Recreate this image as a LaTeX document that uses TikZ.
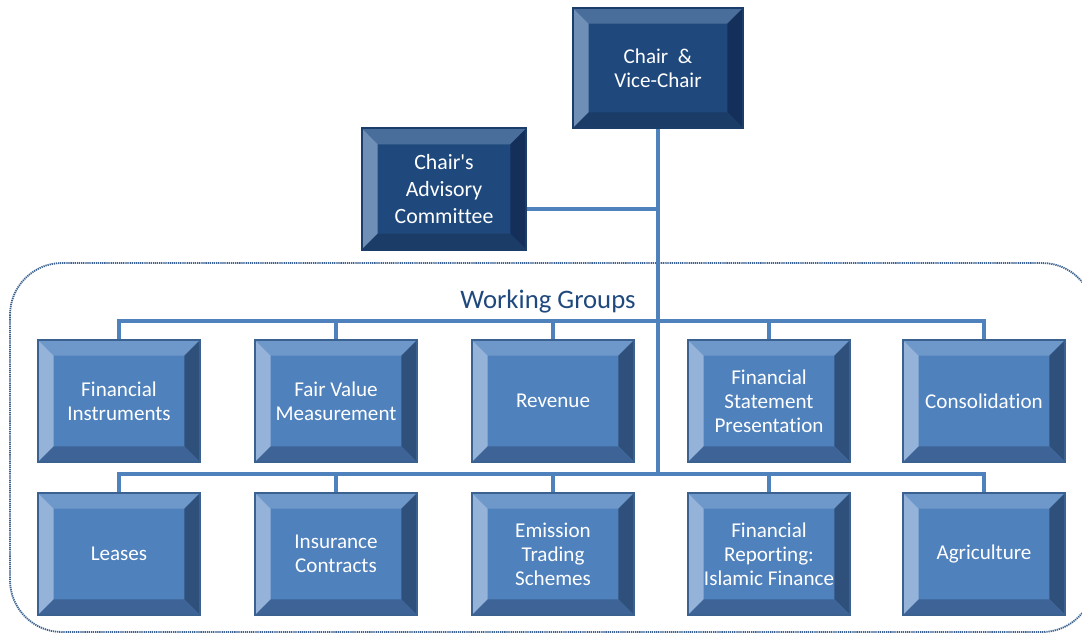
\documentclass[tikz,border=0pt]{standalone}
\usepackage{fontspec}
\setmainfont{Carlito}[Ligatures={TeXOff,NoCommon}]
\usetikzlibrary{calc}

\definecolor{boxmid}{HTML}{4F81BD}
\definecolor{boxtop}{HTML}{6E97CA}
\definecolor{boxleft}{HTML}{95B3D8}
\definecolor{boxright}{HTML}{2F507B}
\definecolor{boxbot}{HTML}{3E6497}
\definecolor{boxline}{HTML}{3A6190}
\definecolor{topmid}{HTML}{1F497D}
\definecolor{toptop}{HTML}{4A6E9B}
\definecolor{topleft}{HTML}{6F8FB7}
\definecolor{topright}{HTML}{14305A}
\definecolor{topbot}{HTML}{1A3C67}
\definecolor{topline}{HTML}{1A3D69}

% bevel frame round a node: #1 node, #2 top, #3 left, #4 right, #5 bottom, #6 outline
\newcommand{\bevel}[6]{
  \fill[#2] (#1.north west) -- (#1.north east) -- ($(#1.north east)+(-16,16)$) -- ($(#1.north west)+(16,16)$) -- cycle;
  \fill[#3] (#1.north west) -- ($(#1.north west)+(16,16)$) -- ($(#1.south west)+(16,-16)$) -- (#1.south west) -- cycle;
  \fill[#4] (#1.north east) -- ($(#1.north east)+(-16,16)$) -- ($(#1.south east)+(-16,-16)$) -- (#1.south east) -- cycle;
  \fill[#5] (#1.south west) -- ($(#1.south west)+(16,-16)$) -- ($(#1.south east)+(-16,-16)$) -- (#1.south east) -- cycle;
  \draw[#6, line width=1.2pt] (#1.north west) rectangle (#1.south east);
}

\begin{document}
\begin{tikzpicture}[x=0.025cm, y=-0.025cm,
    wgbox/.style={rectangle, fill=boxmid, text=white, align=center, inner sep=0pt,
      minimum width=4.05cm, minimum height=3.05cm, font=\fontsize{15}{17}\selectfont},
    headbox/.style={wgbox, fill=topmid},
    link/.style={boxmid, line width=2.2pt}]

        % fix the page to the size of the reference
        \useasboundingbox (0,0) rectangle (1082,641);

        % the working groups frame
        \draw[boxline, line width=1.3pt, dash pattern=on 0.9pt off 0.6pt, rounded corners=1.3cm] (10,263) rectangle (1094,632);
        \node[text=topmid, font=\fontsize{19}{22}\selectfont] (wg) at (548,302) {Working Groups};

        % the heads
        \node[headbox, minimum width=4.25cm, minimum height=3cm] (chair) at (658,68) {Chair~~\&\\Vice-Chair};
        \node[headbox, minimum width=4.1cm, minimum height=3.02cm, font=\fontsize{15.5}{19}\selectfont] (advisory) at (444,189) {Chair's\\Advisory\\Committee};

        % first row of working groups
        \node[wgbox] (instr) at (119,401) {Financial\\Instruments};
        \node[wgbox] (fairval) at (336,401) {Fair Value\\Measurement};
        \node[wgbox] (revenue) at (553,401) {Revenue};
        \node[wgbox] (fsp) at (769,401) {Financial\\Statement\\Presentation};
        \node[wgbox] (consol) at (984,401) {Consolidation};

        % second row of working groups
        \node[wgbox] (leases) at (119,554) {Leases};
        \node[wgbox] (insur) at (336,554) {Insurance\\Contracts};
        \node[wgbox] (emission) at (553,554) {Emission\\Trading\\Schemes};
        \node[wgbox] (islamic) at (769,554) {Financial\\Reporting:\\Islamic Finance};
        \node[wgbox] (agri) at (984,554) {Agriculture};

        % connectors
        \coordinate (bus1) at (658,321);
        \coordinate (bus2) at (658,474);
        \coordinate (advlink) at ($(advisory.east)+(0,20)$);
        \draw[link] (chair.south) -- (bus2);
        \draw[link] (advlink) -- (advlink -| chair.south);
        \foreach \n in {instr, fairval, revenue, fsp, consol}
                \draw[link] (\n.north) |- (bus1);
        \foreach \n in {leases, insur, emission, islamic, agri}
                \draw[link] (\n.north) |- (bus2);

        % bevel frames
        \bevel{chair}{toptop}{topleft}{topright}{topbot}{topline}
        \bevel{advisory}{toptop}{topleft}{topright}{topbot}{topline}
        \foreach \n in {instr, fairval, revenue, fsp, consol, leases, insur, emission, islamic, agri}
                {\bevel{\n}{boxtop}{boxleft}{boxright}{boxbot}{boxline}}

	\end{tikzpicture}
\end{document}
